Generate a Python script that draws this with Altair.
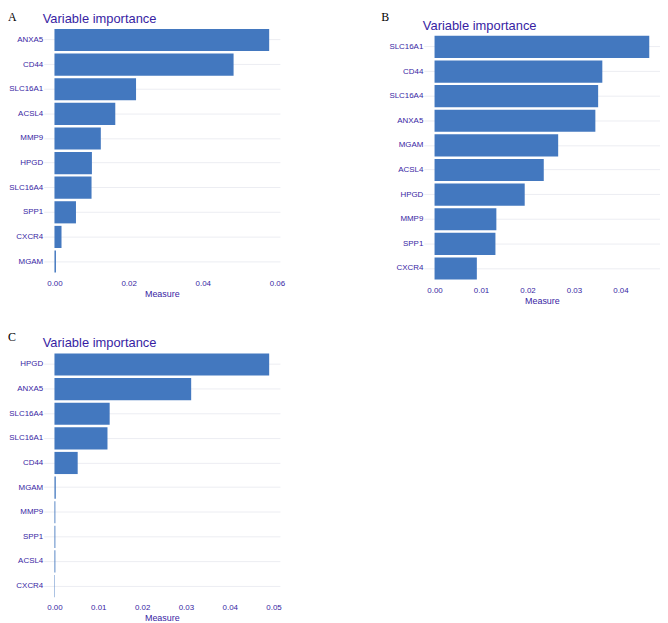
import altair as alt
import pandas as pd

# Panel A
genes_a = ["ANXA5", "CD44", "SLC16A1", "ACSL4", "MMP9", "HPGD", "SLC16A4", "SPP1", "CXCR4", "MGAM"]
vals_a = [0.0579, 0.0483, 0.0220, 0.0164, 0.0125, 0.0101, 0.0100, 0.0058, 0.0019, 0.0004]
ticks_a = [0.00, 0.02, 0.04, 0.06]

# Panel B
genes_b = ["SLC16A1", "CD44", "SLC16A4", "ANXA5", "MGAM", "ACSL4", "HPGD", "MMP9", "SPP1", "CXCR4"]
vals_b = [0.0462, 0.0361, 0.0352, 0.0346, 0.0266, 0.0235, 0.0194, 0.0133, 0.0131, 0.0091]
ticks_b = [0.00, 0.01, 0.02, 0.03, 0.04]

# Panel C
genes_c = ["HPGD", "ANXA5", "SLC16A4", "SLC16A1", "CD44", "MGAM", "MMP9", "SPP1", "ACSL4", "CXCR4"]
vals_c = [0.0490, 0.0312, 0.0126, 0.0121, 0.0053, 0.0003, 0.0002, 0.0002, 0.0002, 0.0001]
ticks_c = [0.00, 0.01, 0.02, 0.03, 0.04, 0.05]

panel_letters = ["A", "B", "C"]
panel_title = "Variable importance"
x_title = "Measure"

TEXT = "#371ea3"
BAR = "#4378bf"
GRID = "#ecedf2"
FONT = "Liberation Sans"
W = 238
H = 253


def panel(letter, genes, vals, ticks, y_off, letter_x, letter_y, title_y):
    df = pd.DataFrame({"variable": genes, "loss": vals})
    mx = max(vals)
    bars = alt.Chart(df).mark_bar(color=BAR).encode(
        x=alt.X(
            "loss:Q",
            title=x_title,
            scale=alt.Scale(domain=[-0.05 * mx, 1.05 * mx], nice=False),
            axis=alt.Axis(
                values=ticks, format=".2f", grid=False, ticks=False, domain=False,
                labelFontSize=8, labelColor=TEXT, labelFont=FONT, labelPadding=3,
                titleFontSize=9, titleColor=TEXT, titleFont=FONT,
                titleFontWeight="normal", titlePadding=2,
            ),
        ),
        y=alt.Y(
            "variable:N",
            sort=genes,
            title=None,
            scale=alt.Scale(range=[y_off, y_off + H], paddingInner=0.1, paddingOuter=0.15),
            axis=alt.Axis(
                grid=True, gridColor=GRID, gridWidth=1, ticks=False, domain=False,
                labelFontSize=8, labelColor=TEXT, labelFont=FONT, labelPadding=1,
                bandPosition=0.5,
            ),
        ),
    )
    letter_layer = alt.Chart(pd.DataFrame({"panel": [letter]})).mark_text(
        font="Liberation Serif", fontSize=12, align="left", baseline="alphabetic", color="black"
    ).encode(text="panel:N", x=alt.value(letter_x), y=alt.value(letter_y))
    title_layer = alt.Chart(pd.DataFrame({"t": [panel_title]})).mark_text(
        font=FONT, fontSize=13, align="left", baseline="alphabetic", color=TEXT
    ).encode(text="t:N", x=alt.value(-1), y=alt.value(title_y))
    return alt.layer(bars, letter_layer, title_layer).properties(width=W, height=H + y_off)


pa = panel(panel_letters[0], genes_a, vals_a, ticks_a, 0, -36, -4, -2.5)
pb = panel(panel_letters[1], genes_b, vals_b, ticks_b, 7, -43, -4.7, 5)
pc = panel(panel_letters[2], genes_c, vals_c, ticks_c, 0, -36, -8.5, -2.5)

chart = alt.concat(
    pa, pb, pc, columns=2, bounds="flush", spacing={"row": 67, "column": 145}
).properties(padding=0, background="white").configure_view(stroke=None)

chart.save("out.html", embed_options={"renderer": "svg", "actions": False})
